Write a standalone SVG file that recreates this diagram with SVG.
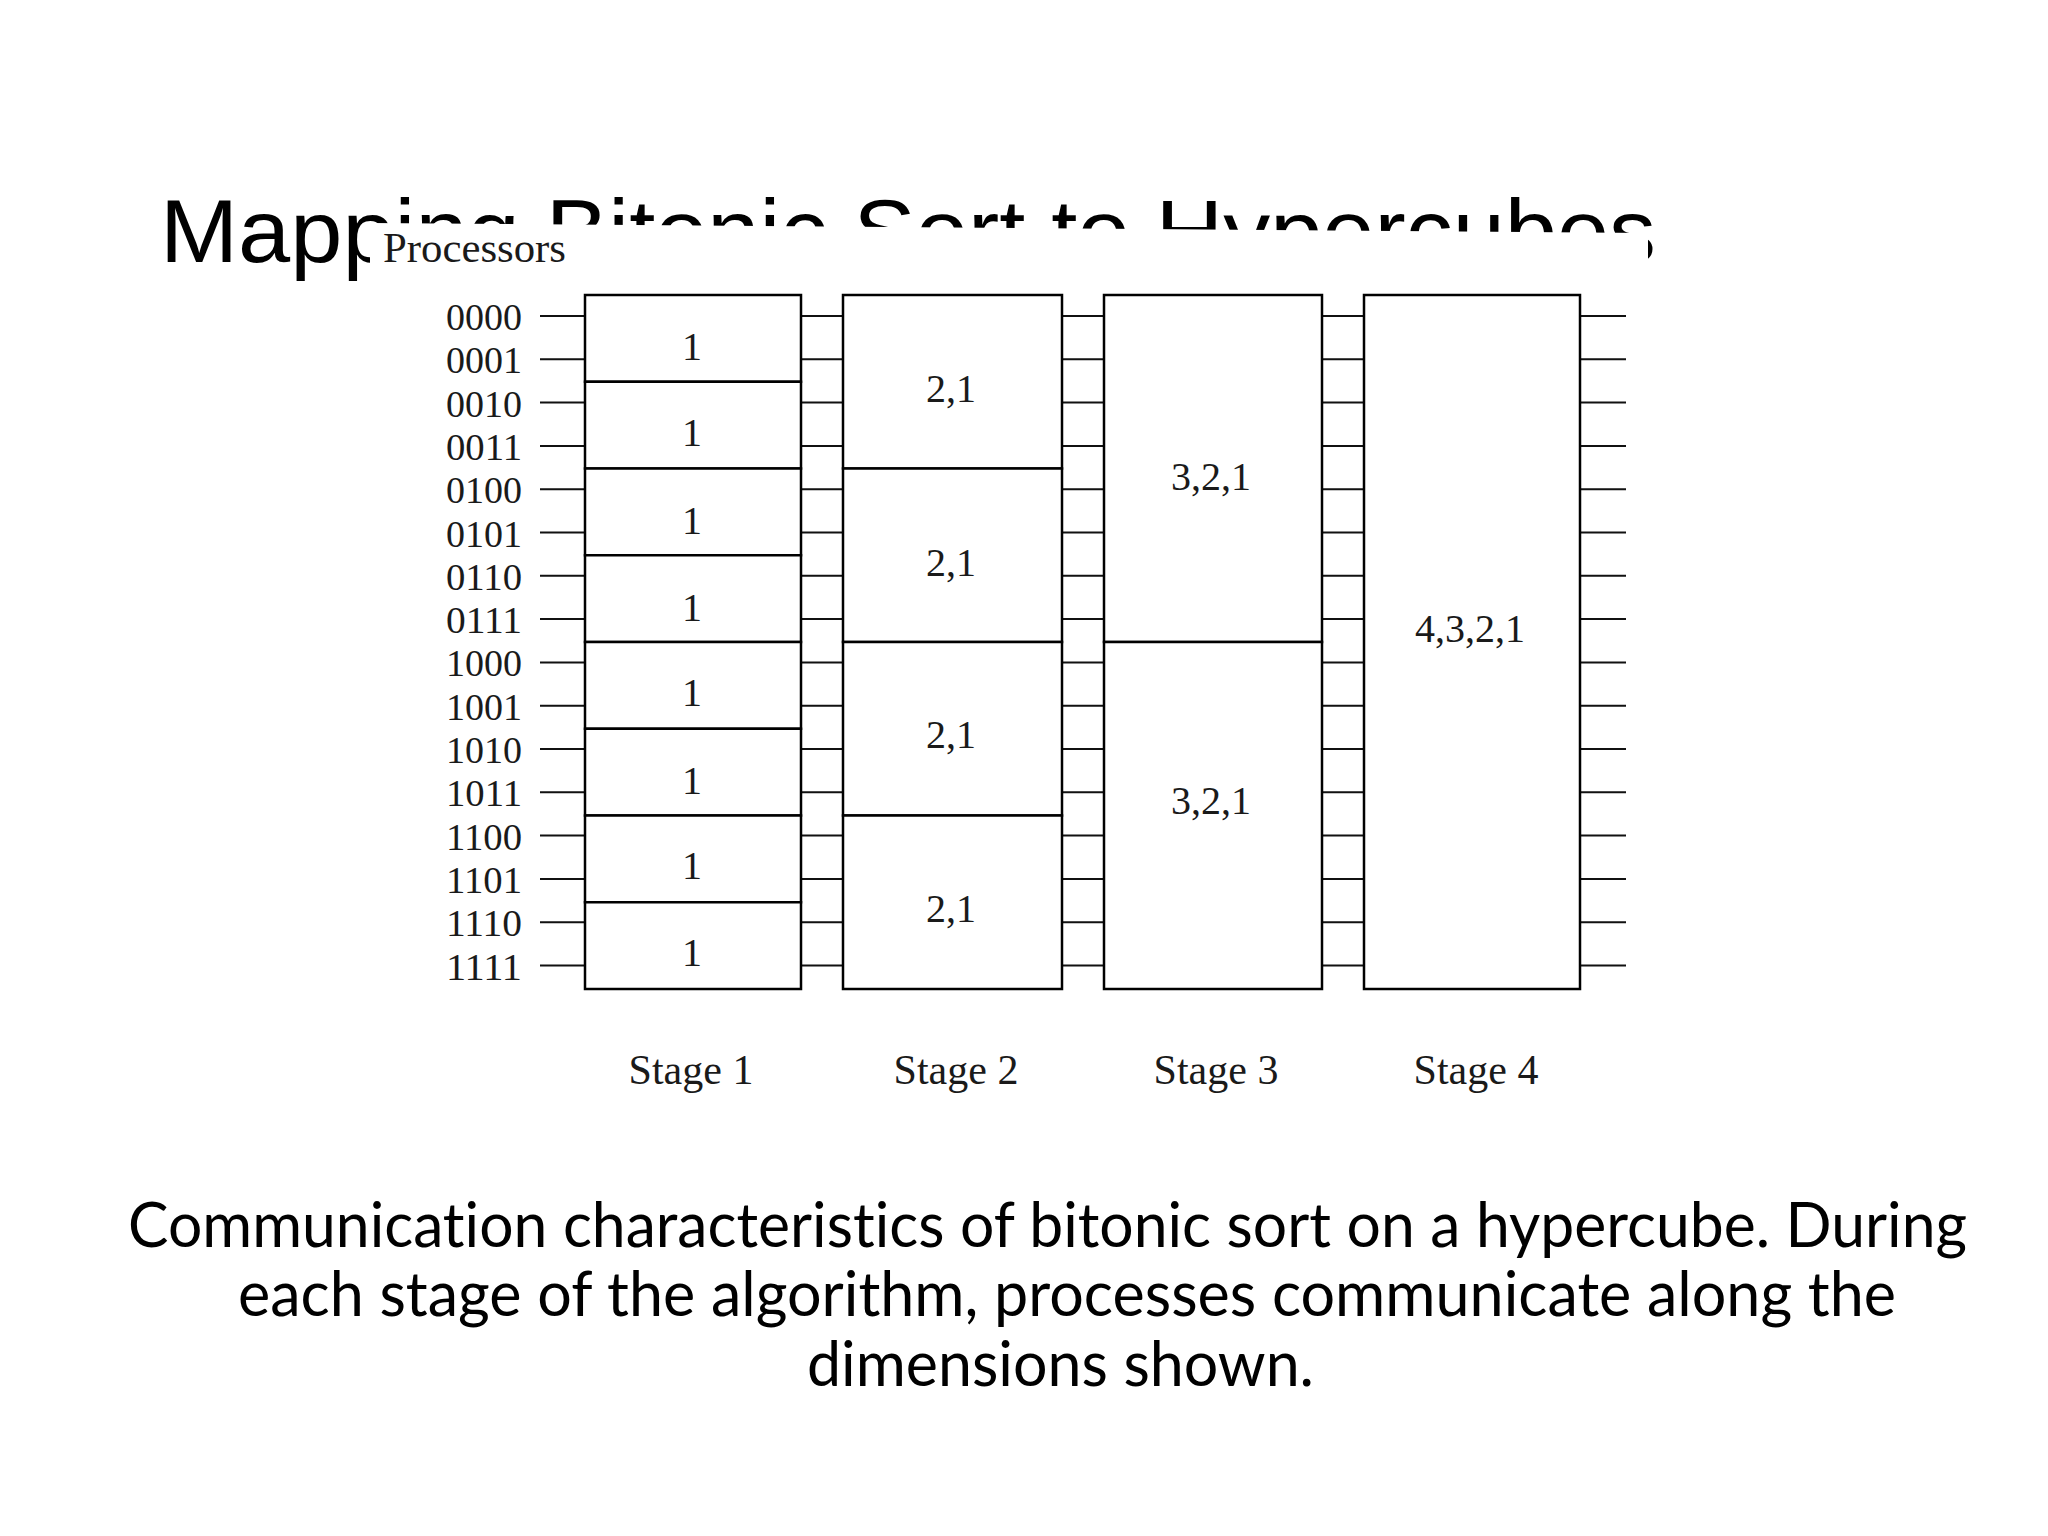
<svg xmlns="http://www.w3.org/2000/svg" width="2048" height="1536" viewBox="0 0 2048 1536">
<style>
.title{font-family:"Liberation Sans",Arial,sans-serif;font-size:89px;fill:#000}
.cap{font-family:Lato,"Liberation Sans",sans-serif;font-size:62px;fill:#000;font-variant-ligatures:none;font-feature-settings:"liga" 0}
.serif{font-family:"Liberation Serif","Times New Roman",serif;fill:#1a1a1a}
.row{font-size:37px}
.lbl{font-size:40px;text-anchor:middle}
.stage{font-size:42px;text-anchor:middle}
.cell{fill:#fff;stroke:#000;stroke-width:2.5}
.wire{stroke:#111;stroke-width:2;fill:none}
</style>
<rect width="2048" height="1536" fill="#fff"/>
<text class="title" x="160" y="262" textLength="1496" lengthAdjust="spacingAndGlyphs">Mapping Bitonic Sort to Hypercubes</text>
<polygon points="370,223 1648,233 1648,300 370,300" fill="#fff"/>
<text class="serif" x="383" y="262" font-size="42" textLength="183" lengthAdjust="spacingAndGlyphs">Processors</text>
<g id="row-labels" class="serif row">
<text x="446" y="330" textLength="76" lengthAdjust="spacingAndGlyphs">0000</text>
<text x="446" y="373.3" textLength="76" lengthAdjust="spacingAndGlyphs">0001</text>
<text x="446" y="416.6" textLength="76" lengthAdjust="spacingAndGlyphs">0010</text>
<text x="446" y="459.9" textLength="76" lengthAdjust="spacingAndGlyphs">0011</text>
<text x="446" y="503.2" textLength="76" lengthAdjust="spacingAndGlyphs">0100</text>
<text x="446" y="546.5" textLength="76" lengthAdjust="spacingAndGlyphs">0101</text>
<text x="446" y="589.8" textLength="76" lengthAdjust="spacingAndGlyphs">0110</text>
<text x="446" y="633.1" textLength="76" lengthAdjust="spacingAndGlyphs">0111</text>
<text x="446" y="676.4" textLength="76" lengthAdjust="spacingAndGlyphs">1000</text>
<text x="446" y="719.7" textLength="76" lengthAdjust="spacingAndGlyphs">1001</text>
<text x="446" y="763" textLength="76" lengthAdjust="spacingAndGlyphs">1010</text>
<text x="446" y="806.3" textLength="76" lengthAdjust="spacingAndGlyphs">1011</text>
<text x="446" y="849.6" textLength="76" lengthAdjust="spacingAndGlyphs">1100</text>
<text x="446" y="892.9" textLength="76" lengthAdjust="spacingAndGlyphs">1101</text>
<text x="446" y="936.2" textLength="76" lengthAdjust="spacingAndGlyphs">1110</text>
<text x="446" y="979.5" textLength="76" lengthAdjust="spacingAndGlyphs">1111</text>
</g>
<g id="connectors">
<path class="wire" d="M540,316H585M801,316H843M1062,316H1104M1322,316H1364M1580,316H1626
M540,359.3H585M801,359.3H843M1062,359.3H1104M1322,359.3H1364M1580,359.3H1626
M540,402.6H585M801,402.6H843M1062,402.6H1104M1322,402.6H1364M1580,402.6H1626
M540,445.9H585M801,445.9H843M1062,445.9H1104M1322,445.9H1364M1580,445.9H1626
M540,489.2H585M801,489.2H843M1062,489.2H1104M1322,489.2H1364M1580,489.2H1626
M540,532.5H585M801,532.5H843M1062,532.5H1104M1322,532.5H1364M1580,532.5H1626
M540,575.8H585M801,575.8H843M1062,575.8H1104M1322,575.8H1364M1580,575.8H1626
M540,619.1H585M801,619.1H843M1062,619.1H1104M1322,619.1H1364M1580,619.1H1626
M540,662.4H585M801,662.4H843M1062,662.4H1104M1322,662.4H1364M1580,662.4H1626
M540,705.7H585M801,705.7H843M1062,705.7H1104M1322,705.7H1364M1580,705.7H1626
M540,749H585M801,749H843M1062,749H1104M1322,749H1364M1580,749H1626
M540,792.3H585M801,792.3H843M1062,792.3H1104M1322,792.3H1364M1580,792.3H1626
M540,835.6H585M801,835.6H843M1062,835.6H1104M1322,835.6H1364M1580,835.6H1626
M540,878.9H585M801,878.9H843M1062,878.9H1104M1322,878.9H1364M1580,878.9H1626
M540,922.2H585M801,922.2H843M1062,922.2H1104M1322,922.2H1364M1580,922.2H1626
M540,965.5H585M801,965.5H843M1062,965.5H1104M1322,965.5H1364M1580,965.5H1626"/>
</g>
<g id="stage1">
<g id="s1-c1"><rect class="cell" x="585" y="295" width="216" height="86.75"/><text class="serif lbl" x="692" y="360">1</text></g>
<g id="s1-c2"><rect class="cell" x="585" y="381.75" width="216" height="86.75"/><text class="serif lbl" x="692" y="446">1</text></g>
<g id="s1-c3"><rect class="cell" x="585" y="468.5" width="216" height="86.75"/><text class="serif lbl" x="692" y="534">1</text></g>
<g id="s1-c4"><rect class="cell" x="585" y="555.25" width="216" height="86.75"/><text class="serif lbl" x="692" y="621">1</text></g>
<g id="s1-c5"><rect class="cell" x="585" y="642" width="216" height="86.75"/><text class="serif lbl" x="692" y="706">1</text></g>
<g id="s1-c6"><rect class="cell" x="585" y="728.75" width="216" height="86.75"/><text class="serif lbl" x="692" y="794">1</text></g>
<g id="s1-c7"><rect class="cell" x="585" y="815.5" width="216" height="86.75"/><text class="serif lbl" x="692" y="879">1</text></g>
<g id="s1-c8"><rect class="cell" x="585" y="902.25" width="216" height="86.75"/><text class="serif lbl" x="692" y="966">1</text></g>
</g>
<g id="stage2">
<g id="s2-c1"><rect class="cell" x="843" y="295" width="219" height="173.5"/><text class="serif lbl" x="951" y="402">2,1</text></g>
<g id="s2-c2"><rect class="cell" x="843" y="468.5" width="219" height="173.5"/><text class="serif lbl" x="951" y="576">2,1</text></g>
<g id="s2-c3"><rect class="cell" x="843" y="642" width="219" height="173.5"/><text class="serif lbl" x="951" y="748">2,1</text></g>
<g id="s2-c4"><rect class="cell" x="843" y="815.5" width="219" height="173.5"/><text class="serif lbl" x="951" y="922">2,1</text></g>
</g>
<g id="stage3">
<g id="s3-c1"><rect class="cell" x="1104" y="295" width="218" height="347"/><text class="serif lbl" x="1211" y="490">3,2,1</text></g>
<g id="s3-c2"><rect class="cell" x="1104" y="642" width="218" height="347"/><text class="serif lbl" x="1211" y="814">3,2,1</text></g>
</g>
<g id="stage4">
<g id="s4-c1"><rect class="cell" x="1364" y="295" width="216" height="694"/><text class="serif lbl" x="1470" y="642">4,3,2,1</text></g>
</g>
<g id="stage-labels" class="serif stage">
<text x="691" y="1084">Stage 1</text>
<text x="956" y="1084">Stage 2</text>
<text x="1216" y="1084">Stage 3</text>
<text x="1476" y="1084">Stage 4</text>
</g>
<g id="caption" class="cap">
<text x="128" y="1247" textLength="1839" lengthAdjust="spacingAndGlyphs">Communication characteristics of bitonic sort on a hypercube. During</text>
<text x="238" y="1316" textLength="1658" lengthAdjust="spacingAndGlyphs">each stage of the algorithm, processes communicate along the</text>
<text x="807" y="1386" textLength="507" lengthAdjust="spacingAndGlyphs">dimensions shown.</text>
</g>
</svg>
